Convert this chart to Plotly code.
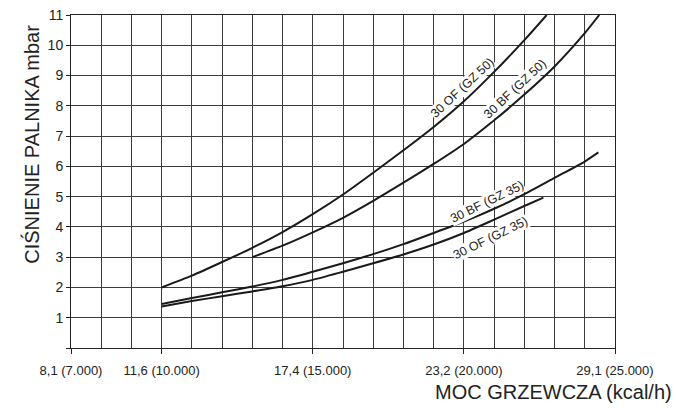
import plotly.graph_objects as go

# Data (x in kcal/h, y in mbar)
of_gz50_x = [10000, 11000, 12000, 13000, 14000, 15000, 16000, 17000, 18000, 19000, 20000, 21000, 22000, 22740]
of_gz50_y = [2.0, 2.39, 2.84, 3.31, 3.83, 4.42, 5.07, 5.79, 6.53, 7.3, 8.15, 9.12, 10.17, 11.0]

bf_gz50_x = [13000, 14000, 15000, 16000, 17000, 18000, 19000, 20000, 21000, 22000, 23000, 24000, 24480]
bf_gz50_y = [3.0, 3.38, 3.82, 4.3, 4.86, 5.46, 6.08, 6.74, 7.52, 8.37, 9.3, 10.4, 11.0]

bf_gz35_x = [10000, 11000, 12000, 13000, 14000, 15000, 16000, 17000, 18000, 19000, 20000, 21000, 22000, 23000, 24000, 24450]
bf_gz35_y = [1.45, 1.65, 1.84, 2.03, 2.25, 2.52, 2.8, 3.1, 3.43, 3.8, 4.18, 4.6, 5.08, 5.62, 6.16, 6.46]

of_gz35_x = [10000, 11000, 12000, 13000, 14000, 15000, 16000, 17000, 18000, 19000, 20000, 21000, 22000, 22630]
of_gz35_y = [1.37, 1.55, 1.71, 1.87, 2.04, 2.25, 2.52, 2.8, 3.09, 3.42, 3.8, 4.24, 4.69, 4.97]

x_tickvals = [7000, 10000, 15000, 20000, 25000]
x_ticktext = ["8,1 (7.000)", "11,6 (10.000)", "17,4 (15.000)", "23,2 (20.000)", "29,1 (25.000)"]
y_tickvals = list(range(0, 12))
y_ticktext = [""] + [str(v) for v in range(1, 12)]

labels = ["30 OF (GZ 50)", "30 BF (GZ 50)", "30 BF (GZ 35)", "30 OF (GZ 35)"]
label_x = [19950, 21690, 20760, 20890]
label_y = [8.58, 8.56, 4.83, 3.62]
label_angle = [-43, -43, -26, -26]

FONT = "Liberation Sans, Arial, sans-serif"

fig = go.Figure()
for xs, ys in [(of_gz50_x, of_gz50_y), (bf_gz50_x, bf_gz50_y), (bf_gz35_x, bf_gz35_y), (of_gz35_x, of_gz35_y)]:
    fig.add_trace(go.Scatter(x=xs, y=ys, mode="lines",
                             line=dict(color="#1a1a1a", width=2, shape="spline", smoothing=0.6),
                             showlegend=False, hoverinfo="skip", cliponaxis=True))

for t, lx, ly, ang in zip(labels, label_x, label_y, label_angle):
    fig.add_annotation(x=lx, y=ly, xref="x", yref="y", text=t, showarrow=False,
                       textangle=ang, bgcolor="white", borderpad=0,
                       font=dict(family=FONT, size=12.5, color="#222"))

fig.add_annotation(x=-0.098, y=0.611, xref="paper", yref="paper", text="CIŚNIENIE PALNIKA mbar",
                   showarrow=False, textangle=-90, font=dict(family=FONT, size=20, color="#222"))
fig.add_annotation(x=1.108, y=-0.171, xref="paper", yref="paper", text="MOC GRZEWCZA (kcal/h)",
                   showarrow=False, xanchor="right", font=dict(family=FONT, size=20, color="#222"))

grid_col = "#3c3c3c"
fig.update_layout(
    width=676, height=416,
    margin=dict(l=71, r=61, t=15, b=68),
    paper_bgcolor="white", plot_bgcolor="white",
    xaxis=dict(range=[7000, 25000], tickvals=x_tickvals, ticktext=x_ticktext,
               ticks="outside", ticklen=5, tickcolor="#222", tickwidth=1,
               ticklabelstandoff=5,
               showgrid=True, gridcolor=grid_col, gridwidth=1,
               minor=dict(dtick=1000, tick0=7000, showgrid=True, gridcolor=grid_col, gridwidth=1),
               showline=True, linecolor="#222", linewidth=1, mirror=True,
               zeroline=False, automargin=False,
               tickfont=dict(family=FONT, size=13, color="#222")),
    yaxis=dict(range=[0, 11], tickvals=y_tickvals, ticktext=y_ticktext,
               ticks="outside", ticklen=4, tickcolor="#222", tickwidth=1,
               showgrid=True, gridcolor=grid_col, gridwidth=1,
               showline=True, linecolor="#222", linewidth=1, mirror=True,
               zeroline=False, automargin=False,
               tickfont=dict(family=FONT, size=14, color="#222")),
)

fig.write_html("out.html", config={"displayModeBar": False},
               post_script="document.body.style.margin='0';")
